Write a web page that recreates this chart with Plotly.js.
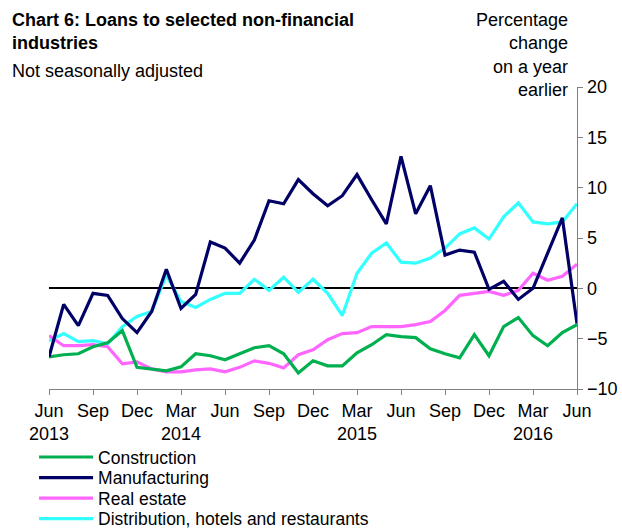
<!DOCTYPE html>
<html>
<head>
<meta charset="utf-8">
<script src="https://cdn.plot.ly/plotly-3.0.1.min.js"></script>
<style>
html,body{margin:0;padding:0;background:#fff;}
#chart{width:622px;height:530px;}
</style>
</head>
<body>
<div id="chart"></div>
<script>
var months = ["Jun 2013","Jul 2013","Aug 2013","Sep 2013","Oct 2013","Nov 2013","Dec 2013",
  "Jan 2014","Feb 2014","Mar 2014","Apr 2014","May 2014","Jun 2014","Jul 2014","Aug 2014","Sep 2014","Oct 2014","Nov 2014","Dec 2014",
  "Jan 2015","Feb 2015","Mar 2015","Apr 2015","May 2015","Jun 2015","Jul 2015","Aug 2015","Sep 2015","Oct 2015","Nov 2015","Dec 2015",
  "Jan 2016","Feb 2016","Mar 2016","Apr 2016","May 2016","Jun 2016"];

var construction = [-6.8,-6.6,-6.5,-5.8,-5.4,-4.2,-7.85,-8.0,-8.2,-7.8,-6.5,-6.7,-7.1,-6.5,-5.9,-5.7,-6.5,-8.4,-7.2,-7.7,-7.7,-6.4,-5.6,-4.6,-4.8,-4.9,-6.0,-6.5,-6.9,-4.6,-6.7,-3.8,-2.9,-4.7,-5.7,-4.4,-3.6];
var manufacturing = [-6.8,-1.6,-3.7,-0.5,-0.7,-3.0,-4.4,-2.3,1.9,-2.0,-0.6,4.6,4.0,2.5,4.8,8.7,8.4,10.8,9.4,8.2,9.2,11.3,8.8,6.4,13.1,7.4,10.2,3.3,3.8,3.6,-0.1,0.7,-1.1,0.0,3.5,7.0,-3.5];
var realEstate = [-4.7,-5.7,-5.7,-5.6,-5.8,-7.5,-7.3,-8.0,-8.3,-8.3,-8.1,-8.0,-8.3,-7.85,-7.2,-7.45,-7.9,-6.6,-6.1,-5.1,-4.5,-4.4,-3.8,-3.8,-3.8,-3.6,-3.3,-2.2,-0.7,-0.5,-0.3,-0.7,-0.2,1.5,0.8,1.2,2.4];
var distribution = [-5.2,-4.5,-5.3,-5.2,-5.5,-3.8,-2.8,-2.3,1.3,-1.3,-1.9,-1.1,-0.5,-0.5,0.9,-0.2,1.1,-0.4,0.9,-0.5,-2.7,1.5,3.5,4.5,2.6,2.5,3.0,4.0,5.4,6.0,4.9,7.1,8.5,6.6,6.4,6.6,8.4];

var tickVals = ["Jun 2013","Sep 2013","Dec 2013","Mar 2014","Jun 2014","Sep 2014","Dec 2014","Mar 2015","Jun 2015","Sep 2015","Dec 2015","Mar 2016","Jun 2016"];
var tickText = ["Jun<br>2013","Sep","Dec","Mar<br>2014","Jun","Sep","Dec","Mar<br>2015","Jun","Sep","Dec","Mar<br>2016","Jun"];

var seriesNames = ["Construction","Manufacturing","Real estate","Distribution, hotels and restaurants"];
var seriesColors = ["#00B050","#000066","#FF66FF","#33FFFF"];
var seriesData = [construction, manufacturing, realEstate, distribution];
var legendIds = ["legend","legend2","legend3","legend4"];

var order = [3,2,0,1];
var traces = order.map(function(i){
  return {
    x: months, y: seriesData[i], name: seriesNames[i], type: "scatter", mode: "lines",
    line: {color: seriesColors[i], width: 3.2}, legend: legendIds[i]
  };
});

var FF = "Liberation Sans, Arial, sans-serif";
var font = {family: FF, size: 18, color: "#000"};

var layout = {
  width: 622, height: 530,
  margin: {l: 49, r: 45, t: 87, b: 141, autoexpand: false},
  paper_bgcolor: "#fff", plot_bgcolor: "#fff",
  font: font,
  showlegend: true,
  xaxis: {
    type: "category", range: [0, 36], tickmode: "array", tickvals: tickVals, ticktext: tickText,
    ticks: "outside", ticklen: 5, tickcolor: "#808080", showline: true, linecolor: "#808080", linewidth: 1.3,
    showgrid: false, zeroline: false, tickfont: font, fixedrange: true
  },
  yaxis: {
    side: "right", range: [-10, 20], dtick: 5, tick0: 0, ticks: "outside", ticklen: 5, tickcolor: "#808080",
    showline: true, linecolor: "#808080", linewidth: 1.3, showgrid: false,
    zeroline: true, zerolinecolor: "#000", zerolinewidth: 2.2, tickfont: font, fixedrange: true
  },
  annotations: [
    {xref: "paper", yref: "paper", x: -0.073, y: 1.262, xanchor: "left", yanchor: "top", align: "left",
     text: "<b>Chart 6: Loans to selected non-financial<br>industries</b>", showarrow: false,
     font: {family: FF, size: 18, color: "#000"}},
    {xref: "paper", yref: "paper", x: -0.073, y: 1.093, xanchor: "left", yanchor: "top", align: "left",
     text: "Not seasonally adjusted", showarrow: false,
     font: {family: FF, size: 18, color: "#000"}},
    {xref: "paper", yref: "paper", x: 0.987, y: 1.26, xanchor: "right", yanchor: "top", align: "right",
     text: "Percentage<br>change<br>on a year<br>earlier", showarrow: false,
     font: {family: FF, size: 18, color: "#000"}}
  ]
};

legendIds.forEach(function(id, k){
  layout[id] = {x: -0.0283, xanchor: "left", y: -0.166 - k*0.068, yanchor: "top", orientation: "v",
    font: {family: FF, size: 17.5, color: "#000"}, bgcolor: "rgba(0,0,0,0)", itemwidth: 54};
});

Plotly.newPlot("chart", traces, layout, {displayModeBar: false, staticPlot: true});
</script>
</body>
</html>
